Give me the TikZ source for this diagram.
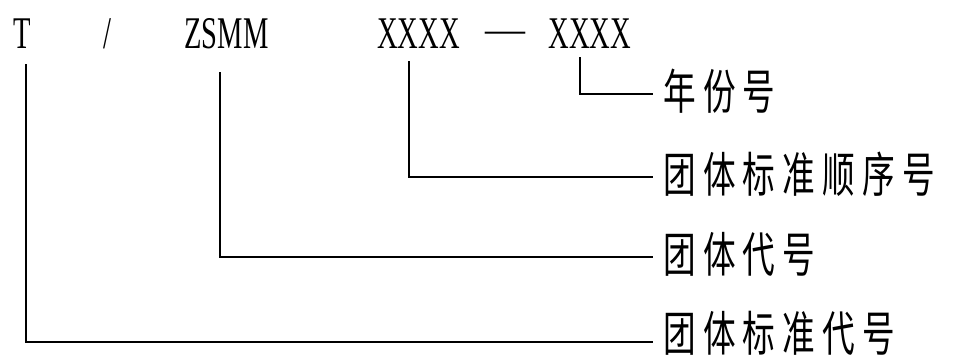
\documentclass[tikz,border=0pt]{standalone}
\usepackage{fontspec}
\newfontfamily\latinnarrow[FakeStretch=0.63]{Liberation Serif}
\newfontfamily\latinserif{Liberation Serif}
\newfontfamily\cjknarrow[FakeStretch=0.68,LetterSpace=15]{Noto Sans CJK SC}
\begin{document}
\begin{tikzpicture}[x=0.75pt,y=-0.75pt,
  code/.style={inner sep=0pt,anchor=base,font=\latinnarrow\fontsize{34}{34}\selectfont},
  lbl/.style={inner sep=0pt,anchor=west,font=\cjknarrow\fontsize{36}{36}\selectfont},
  lead/.style={line width=1.8pt}]
\useasboundingbox (0,0) rectangle (956,356);
\node[code] (t) at (22.5,49) {T};
\node[code] (slash) at (107,49) {/};
\node[code] (org) at (226.5,49) {ZSMM};
\node[code] (seq) at (418.5,49) {XXXX};
\node[code,font=\latinserif\fontsize{30}{30}\selectfont] (dash) at (505,43) {—};
\node[code] (yr) at (590,49) {XXXX};
\node[lbl] (lyr) at (663,91) {年份号};
\node[lbl] (lseq) at (663,174) {团体标准顺序号};
\node[lbl] (lorg) at (663,254) {团体代号};
\node[lbl] (lstd) at (663,333) {团体标准代号};
\draw[lead] ([xshift=-7.5pt,yshift=-6pt]yr.south) |- ([xshift=-7.5pt,yshift=-2.25pt]lyr.west);
\draw[lead] ([xshift=-7.1pt,yshift=-9pt]seq.south) |- ([xshift=-7.5pt,yshift=-2.25pt]lseq.west);
\draw[lead] ([xshift=-4.9pt,yshift=-17pt]org.south) |- ([xshift=-7.5pt,yshift=-2.25pt]lorg.west);
\draw[lead] ([xshift=2.6pt,yshift=-11.25pt]t.south) |- ([xshift=-7.5pt,yshift=-6.75pt]lstd.west);
\end{tikzpicture}
\end{document}
